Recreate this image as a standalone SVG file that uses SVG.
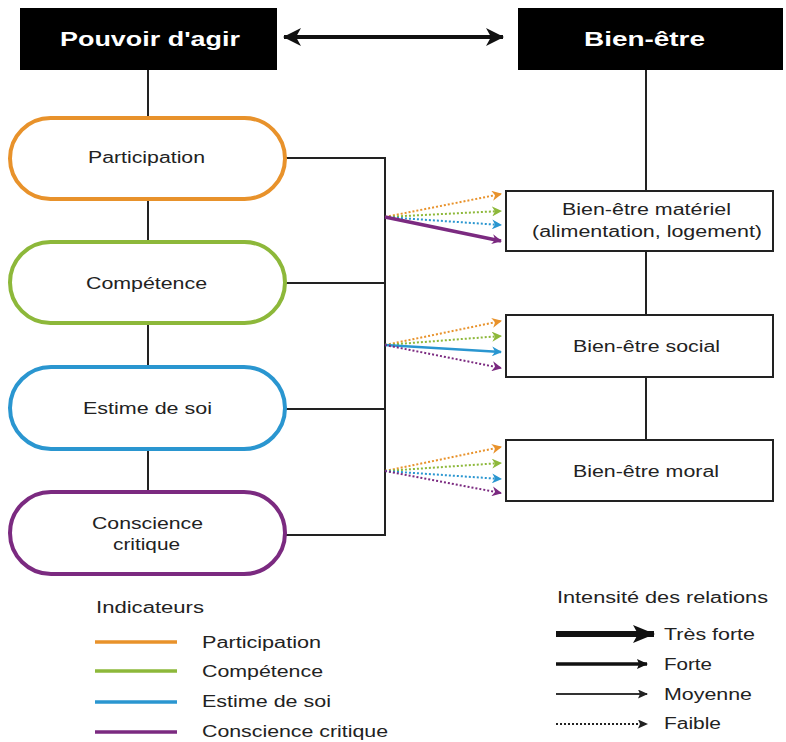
<svg xmlns="http://www.w3.org/2000/svg" width="786" height="742" viewBox="0 0 786 742">
<style>
text{font-family:"Liberation Sans",Arial,sans-serif;fill:#222;}
.hdr{fill:#fff;font-weight:bold;font-size:21px;}
.nt{font-size:16px;}
.lt{font-size:16px;}
.oval{fill:#fff;stroke-width:4;}
.box{fill:#fff;stroke:#222;stroke-width:2;}
.ln{stroke:#222;stroke-width:2;fill:none;}
.dot{stroke-width:2;stroke-dasharray:2 2;fill:none;}
</style>
<defs>
<marker id="aO" markerWidth="10" markerHeight="10" refX="9" refY="5" orient="auto" markerUnits="userSpaceOnUse"><path d="M0,0 L10,5 L0,10 L3,5z" fill="#E8922B"/></marker>
<marker id="aG" markerWidth="10" markerHeight="10" refX="9" refY="5" orient="auto" markerUnits="userSpaceOnUse"><path d="M0,0 L10,5 L0,10 L3,5z" fill="#8DB83A"/></marker>
<marker id="aB" markerWidth="10" markerHeight="10" refX="9" refY="5" orient="auto" markerUnits="userSpaceOnUse"><path d="M0,0 L10,5 L0,10 L3,5z" fill="#2A96D0"/></marker>
<marker id="aP" markerWidth="10" markerHeight="10" refX="9" refY="5" orient="auto" markerUnits="userSpaceOnUse"><path d="M0,0 L10,5 L0,10 L3,5z" fill="#7B2A80"/></marker>
<marker id="aK" markerWidth="11" markerHeight="10" refX="10" refY="5" orient="auto" markerUnits="userSpaceOnUse"><path d="M0,0 L11,5 L0,10 L2,5z" fill="#111"/></marker>
<marker id="aKs" markerWidth="10" markerHeight="9" refX="9" refY="4.5" orient="auto" markerUnits="userSpaceOnUse"><path d="M0,0 L10,4.5 L0,9 L2,4.5z" fill="#222"/></marker>
<marker id="aKL" markerWidth="22" markerHeight="18" refX="21" refY="9" orient="auto" markerUnits="userSpaceOnUse"><path d="M0,0 L22,9 L0,18 L5,9z" fill="#111"/></marker>
<marker id="aDE" markerWidth="18" markerHeight="18" refX="17" refY="9" orient="auto" markerUnits="userSpaceOnUse"><path d="M0,0 L18,9 L0,18 L5,9z" fill="#111"/></marker>
<marker id="aDS" markerWidth="18" markerHeight="18" refX="1" refY="9" orient="auto" markerUnits="userSpaceOnUse"><path d="M18,0 L0,9 L18,18 L13,9z" fill="#111"/></marker>
</defs>

<g id="connectors">
  <line x1="148" y1="70" x2="148" y2="492" class="ln"/>
  <line x1="646" y1="70" x2="646" y2="440" class="ln"/>
  <line x1="284" y1="37" x2="503" y2="37" stroke="#111" stroke-width="4" marker-start="url(#aDS)" marker-end="url(#aDE)"/>
  <path d="M285,158 H385 M285,283 H385 M285,409 H385 M285,535 H385 M385,157 V536" class="ln"/>
  <line x1="385" y1="217" x2="501" y2="194" class="dot" stroke="#E8922B" marker-end="url(#aO)"/>
  <line x1="385" y1="217" x2="501" y2="211" class="dot" stroke="#8DB83A" marker-end="url(#aG)"/>
  <line x1="385" y1="217" x2="501" y2="225" class="dot" stroke="#2A96D0" marker-end="url(#aB)"/>
  <line x1="385" y1="217" x2="501" y2="241" stroke="#7B2A80" stroke-width="3.5" marker-end="url(#aP)"/>
  <line x1="385" y1="345" x2="501" y2="321" class="dot" stroke="#E8922B" marker-end="url(#aO)"/>
  <line x1="385" y1="345" x2="501" y2="336" class="dot" stroke="#8DB83A" marker-end="url(#aG)"/>
  <line x1="385" y1="345" x2="501" y2="352" stroke="#2A96D0" stroke-width="2.5" marker-end="url(#aB)"/>
  <line x1="385" y1="345" x2="501" y2="368" class="dot" stroke="#7B2A80" marker-end="url(#aP)"/>
  <line x1="385" y1="471" x2="501" y2="447" class="dot" stroke="#E8922B" marker-end="url(#aO)"/>
  <line x1="385" y1="471" x2="501" y2="463" class="dot" stroke="#8DB83A" marker-end="url(#aG)"/>
  <line x1="385" y1="471" x2="501" y2="479" class="dot" stroke="#2A96D0" marker-end="url(#aB)"/>
  <line x1="385" y1="471" x2="501" y2="493" class="dot" stroke="#7B2A80" marker-end="url(#aP)"/>
</g>

<g id="pouvoir"><rect x="20" y="8" width="257" height="62" fill="#000"/><text x="60" y="46" class="hdr" textLength="180" lengthAdjust="spacingAndGlyphs">Pouvoir d'agir</text></g>
<g id="bienetre"><rect x="518" y="8" width="265" height="62" fill="#000"/><text x="584" y="46" class="hdr" textLength="121" lengthAdjust="spacingAndGlyphs">Bien-être</text></g>

<g id="participation"><rect x="10" y="118" width="275" height="81" rx="40.5" class="oval" stroke="#E8922B"/><text x="88" y="163" class="nt" textLength="117" lengthAdjust="spacingAndGlyphs">Participation</text></g>
<g id="competence"><rect x="10" y="242" width="275" height="81" rx="40.5" class="oval" stroke="#8DB83A"/><text x="86" y="289" class="nt" textLength="121" lengthAdjust="spacingAndGlyphs">Compétence</text></g>
<g id="estime"><rect x="10" y="367" width="275" height="82" rx="41" class="oval" stroke="#2A96D0"/><text x="83" y="414" class="nt" textLength="129" lengthAdjust="spacingAndGlyphs">Estime de soi</text></g>
<g id="conscience"><rect x="10" y="492" width="275" height="82" rx="41" class="oval" stroke="#7B2A80"/><text x="92" y="529" class="nt" textLength="111" lengthAdjust="spacingAndGlyphs">Conscience</text><text x="113" y="550" class="nt" textLength="67" lengthAdjust="spacingAndGlyphs">critique</text></g>

<g id="materiel"><rect x="506" y="191" width="267" height="60" class="box"/><text x="562" y="215" class="nt" textLength="169" lengthAdjust="spacingAndGlyphs">Bien-être matériel</text><text x="532" y="237" class="nt" textLength="230" lengthAdjust="spacingAndGlyphs">(alimentation, logement)</text></g>
<g id="social"><rect x="506" y="315" width="267" height="62" class="box"/><text x="573" y="352" class="nt" textLength="147" lengthAdjust="spacingAndGlyphs">Bien-être social</text></g>
<g id="moral"><rect x="506" y="440" width="267" height="61" class="box"/><text x="573" y="477" class="nt" textLength="146" lengthAdjust="spacingAndGlyphs">Bien-être moral</text></g>

<g id="legend-indicateurs">
  <text x="96" y="613" class="lt" textLength="108" lengthAdjust="spacingAndGlyphs">Indicateurs</text>
  <line x1="95" y1="642" x2="177" y2="642" stroke="#E8922B" stroke-width="3.5"/>
  <line x1="95" y1="671" x2="177" y2="671" stroke="#8DB83A" stroke-width="3.5"/>
  <line x1="95" y1="702" x2="177" y2="702" stroke="#2A96D0" stroke-width="3.5"/>
  <line x1="95" y1="732" x2="177" y2="732" stroke="#7B2A80" stroke-width="3.5"/>
  <text x="202" y="648" class="lt" textLength="119" lengthAdjust="spacingAndGlyphs">Participation</text>
  <text x="202" y="677" class="lt" textLength="121" lengthAdjust="spacingAndGlyphs">Compétence</text>
  <text x="202" y="707" class="lt" textLength="129" lengthAdjust="spacingAndGlyphs">Estime de soi</text>
  <text x="202" y="737" class="lt" textLength="186" lengthAdjust="spacingAndGlyphs">Conscience critique</text>
</g>

<g id="legend-intensite">
  <text x="557" y="603" class="lt" textLength="211" lengthAdjust="spacingAndGlyphs">Intensité des relations</text>
  <line x1="556" y1="634" x2="654" y2="634" stroke="#111" stroke-width="6" marker-end="url(#aKL)"/>
  <line x1="556" y1="664" x2="647" y2="664" stroke="#111" stroke-width="3.5" marker-end="url(#aK)"/>
  <line x1="556" y1="694" x2="647" y2="694" stroke="#333" stroke-width="2.2" marker-end="url(#aKs)"/>
  <line x1="556" y1="724" x2="647" y2="724" stroke="#222" stroke-width="2" stroke-dasharray="2 2" marker-end="url(#aKs)"/>
  <text x="664" y="640" class="lt" textLength="91" lengthAdjust="spacingAndGlyphs">Très forte</text>
  <text x="664" y="670" class="lt" textLength="48" lengthAdjust="spacingAndGlyphs">Forte</text>
  <text x="664" y="700" class="lt" textLength="88" lengthAdjust="spacingAndGlyphs">Moyenne</text>
  <text x="664" y="729" class="lt" textLength="57" lengthAdjust="spacingAndGlyphs">Faible</text>
</g>
</svg>
